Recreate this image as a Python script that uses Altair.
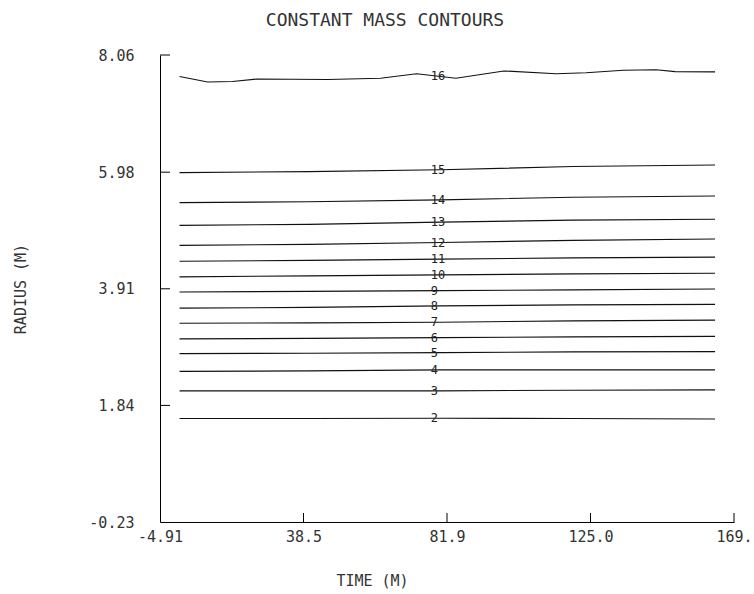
import altair as alt
import pandas as pd

# ---- data ----
X_TICK_VALUES = [-4.91, 38.50, 81.91, 125.32, 168.73]
X_TICK_LABELS = ["-4.91", "38.5", "81.9", "125.0", "169."]
Y_TICK_VALUES = [-0.23, 1.84, 3.91, 5.98, 8.06]
Y_TICK_LABELS = ["-0.23", "1.84", "3.91", "5.98", "8.06"]

# contours 2..15 sampled at these times
T_POINTS = [1, 40, 80, 120, 163]
C2 = [1.608, 1.608, 1.612, 1.608, 1.599]
C3 = [2.097, 2.097, 2.097, 2.109, 2.115]
C4 = [2.443, 2.452, 2.470, 2.470, 2.470]
C5 = [2.759, 2.766, 2.777, 2.790, 2.795]
C6 = [3.020, 3.029, 3.043, 3.056, 3.065]
C7 = [3.299, 3.305, 3.317, 3.340, 3.353]
C8 = [3.566, 3.580, 3.607, 3.624, 3.633]
C9 = [3.852, 3.864, 3.878, 3.891, 3.905]
C10 = [4.122, 4.139, 4.157, 4.175, 4.187]
C11 = [4.400, 4.415, 4.436, 4.459, 4.472]
C12 = [4.681, 4.699, 4.731, 4.770, 4.793]
C13 = [5.036, 5.054, 5.093, 5.129, 5.143]
C14 = [5.440, 5.454, 5.489, 5.534, 5.557]
C15 = [5.972, 5.990, 6.022, 6.080, 6.106]

# contour 16 (wavy)
T16 = [1.0, 9.5, 17.0, 24.3, 45.8, 61.8, 72.7, 80.0, 84.6, 99.1, 114.9, 124.0, 135.2, 145.2, 150.9, 163.0]
C16 = [7.679, 7.580, 7.590, 7.633, 7.626, 7.647, 7.726, 7.679, 7.647, 7.777, 7.726, 7.745, 7.790, 7.799, 7.765, 7.760]

LABEL_T = 77.0
LABEL_IDS = ["2", "3", "4", "5", "6", "7", "8", "9", "10", "11", "12", "13", "14", "15", "16"]
LABEL_R = [1.612, 2.097, 2.470, 2.777, 3.043, 3.317, 3.607, 3.878, 4.157, 4.436, 4.731, 5.093, 5.489, 6.022, 7.679]

FONT = "DejaVu Sans Mono"
TEXT_COLOR = "#333333"

# ---- build tables ----
series = {"2": C2, "3": C3, "4": C4, "5": C5, "6": C6, "7": C7, "8": C8, "9": C9,
          "10": C10, "11": C11, "12": C12, "13": C13, "14": C14, "15": C15}
rows = []
for cid, vals in series.items():
    for t, r in zip(T_POINTS, vals):
        rows.append({"contour": cid, "t": t, "r": r})
for t, r in zip(T16, C16):
    rows.append({"contour": "16", "t": t, "r": r})
lines_df = pd.DataFrame(rows)

labels_df = pd.DataFrame({"label": LABEL_IDS, "t": [LABEL_T] * len(LABEL_IDS), "r": LABEL_R})
xticks_df = pd.DataFrame({"t": X_TICK_VALUES[1:]})
yticks_df = pd.DataFrame({"r": Y_TICK_VALUES[1:]})


def label_expr(values, labels):
    expr = "''"
    for v, lab in reversed(list(zip(values, labels))):
        expr = f"abs(datum.value - ({v})) < 0.01 ? '{lab}' : {expr}"
    return expr


X_ENC = alt.X(
    "t:Q",
    scale=alt.Scale(domain=[X_TICK_VALUES[0], X_TICK_VALUES[-1]], nice=False, zero=False),
    axis=alt.Axis(
        values=X_TICK_VALUES,
        labelExpr=label_expr(X_TICK_VALUES, X_TICK_LABELS),
        title="TIME (M)",
        ticks=False,
        tickSize=0,
        labelPadding=7,
        labelFlush=False,
        labelOverlap=False,
        titleX=212,
        titleY=58,
        titleAlign="center",
        titleBaseline="middle",
    ),
)
Y_ENC = alt.Y(
    "r:Q",
    scale=alt.Scale(domain=[Y_TICK_VALUES[0], Y_TICK_VALUES[-1]], nice=False, zero=False),
    axis=alt.Axis(
        values=Y_TICK_VALUES,
        labelExpr=label_expr(Y_TICK_VALUES, Y_TICK_LABELS),
        title="RADIUS (M)",
        ticks=False,
        tickSize=0,
        labelPadding=26,
        labelFlush=False,
        labelOverlap=False,
        titleX=-140,
        titleY=233.5,
        titleAngle=270,
        titleAlign="center",
        titleBaseline="middle",
    ),
)

lines = alt.Chart(lines_df).mark_line(color="#111111", strokeWidth=1.1).encode(
    x=X_ENC, y=Y_ENC, detail="contour:N"
)
labels = alt.Chart(labels_df).mark_text(
    align="left", baseline="middle", font=FONT, fontSize=12, color="#222222"
).encode(x=X_ENC, y=Y_ENC, text="label:N")
yticks = alt.Chart(yticks_df).mark_rule(color="#000000", strokeWidth=1).encode(
    y=Y_ENC, x=alt.value(0), x2=alt.value(10)
)
xticks = alt.Chart(xticks_df).mark_rule(color="#000000", strokeWidth=1).encode(
    x=X_ENC, y=alt.value(467), y2=alt.value(458)
)

chart = (
    alt.layer(lines, labels, yticks, xticks)
    .properties(
        width=574,
        height=467,
        title=alt.TitleParams(
            text="CONSTANT MASS CONTOURS",
            anchor="middle",
            dx=-62,
            offset=0,
            baseline="bottom",
            font=FONT,
            fontSize=18,
            fontWeight="normal",
            color=TEXT_COLOR,
        ),
        autosize=alt.AutoSizeParams(type="none"),
        padding={"left": 160, "top": 55, "right": 20, "bottom": 72},
        background="white",
    )
    .configure_view(stroke=None)
    .configure_axis(
        grid=False,
        domainColor="#000000",
        domainWidth=1,
        labelFont=FONT,
        labelFontSize=15,
        labelColor=TEXT_COLOR,
        titleFont=FONT,
        titleFontSize=15,
        titleFontWeight="normal",
        titleColor=TEXT_COLOR,
    )
)

chart.save("out.html", embed_options={"renderer": "svg", "actions": False})
